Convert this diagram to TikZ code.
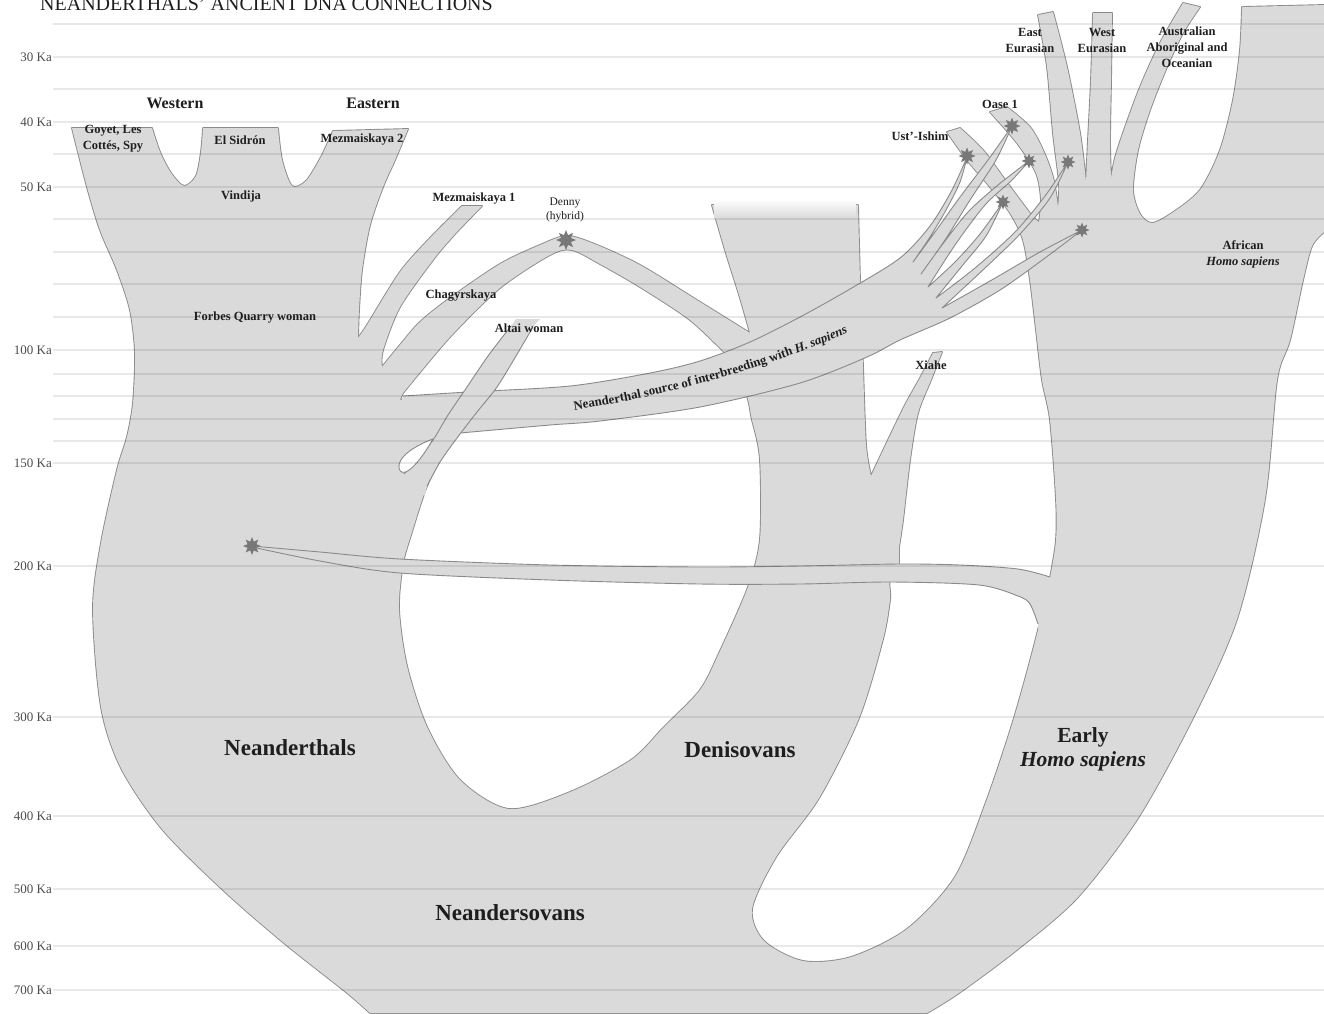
\documentclass[tikz,border=0pt]{standalone}
\usepackage{fontspec}
\setmainfont{Liberation Serif}
\usetikzlibrary{shapes.geometric,decorations.text}

\definecolor{lineagegray}{RGB}{218,218,218}
\definecolor{edgegray}{RGB}{138,138,138}
\definecolor{stargray}{RGB}{120,120,120}
\definecolor{inkgray}{RGB}{30,30,30}
\definecolor{axisgray}{RGB}{75,75,75}

\newcommand\bandfont{\fontsize{12.8}{12.8}\selectfont\bfseries}

% outline of the joined lineages (Neanderthals, Denisovans, H. sapiens)
\newcommand\bodyoutline{(72,128) -- (152,128)
  -- plot[smooth] coordinates {(152,128) (160,152) (171,173) (184,186) (196,176) (201,152) (203,128)}
  -- (278,128)
  -- plot[smooth] coordinates {(278,128) (282,160) (292,186) (306,181) (321,157) (333,131)}
  -- (408,129)
  -- plot[smooth] coordinates {(408,129) (395,160) (383,187) (370,225) (362,270) (359,310) (358,338)}
  -- (366,372) -- (392,398) -- (430,405) -- (550,405) -- (650,390) -- (735,368) -- (751,343) -- (750,333)
  -- plot[smooth] coordinates {(750,333) (740,298) (725,250) (712,205)}
  -- (858,205)
  -- plot[smooth] coordinates {(858,205) (860,280) (863,367) (866,445) (871,476)}
  -- plot[smooth] coordinates {(871,476) (888,440) (905,405) (920,378) (933,353)}
  -- (942,352)
  -- plot[smooth] coordinates {(942,352) (931,380) (918,413) (910,460) (903,520) (899,547)}
  -- (899,567) -- (960,568) -- (1010,572) -- (1050,578)
  -- plot[smooth] coordinates {(1050,578) (1056,540) (1056,499) (1050,420) (1042,380) (1036,330) (1030,280) (1023,240) (1010,213) (990,187) (967,160) (947,132)}
  -- (960,128)
  -- plot[smooth] coordinates {(960,128) (983,150) (1003,177) (1020,200) (1033,217) (1039,222)}
  -- plot[smooth] coordinates {(1039,222) (1041,200) (1036,173) (1017,143) (990,112)}
  -- (1007,107)
  -- plot[smooth] coordinates {(1007,107) (1030,127) (1043,150) (1053,177) (1058,207)}
  -- plot[smooth] coordinates {(1058,207) (1059,183) (1053,133) (1047,67) (1038,15)}
  -- (1053,12)
  -- plot[smooth] coordinates {(1053,12) (1067,67) (1080,133) (1086,182)}
  -- plot[smooth] coordinates {(1086,182) (1088,140) (1091,80) (1093,13)}
  -- (1112,13)
  -- plot[smooth] coordinates {(1112,13) (1111,80) (1110,140) (1111,178)}
  -- plot[smooth] coordinates {(1111,178) (1115,158) (1123,133) (1140,87) (1160,43) (1183,3)}
  -- (1200,7)
  -- plot[smooth] coordinates {(1200,7) (1183,33) (1167,67) (1150,110) (1138,150) (1133,190) (1140,214) (1152,223) (1172,213) (1200,190) (1220,150) (1233,100) (1240,50) (1242,7)}
  -- (1324,5) -- (1324,232)
  -- plot[smooth] coordinates {(1324,232) (1312,246) (1303,280) (1290,340) (1277,380) (1265,499) (1237,619) (1193,718) (1138,818) (1078,897) (1018,949) (959,993) (927,1013)}
  -- (370,1013)
  -- plot[smooth] coordinates {(370,1013) (346,992) (284,943) (223,890) (162,829) (121,768) (101,707) (93,609) (101,543) (117,470) (127,437) (133,403) (135,353) (130,310) (117,270) (100,230) (87,187) (72,128)}
  -- cycle}

% holes
\newcommand\holeone{(462,428) plot[smooth cycle] coordinates {(462,428) (550,418) (700,398) (742,390) (752,420) (760,460) (760,539) (748,587) (720,651) (700,690) (664,727) (631,760) (570,792) (509,809) (460,780) (427,727) (407,666) (399,609) (403,564) (411,535) (427,486) (445,452)}}
\newcommand\holetwo{(893,575) plot[smooth cycle] coordinates {(893,575) (940,575) (985,577) (1022,586) (1040,608) (1038,630) (1014,718) (986,802) (955,877) (907,929) (851,957) (803,961) (764,941) (752,909) (776,857) (819,798) (859,718) (883,639) (890,600)}}

% branches
\newcommand\mezone{(345,365) -- (358,338) -- plot[smooth] coordinates {(358,338) (367,325) (400,272) (430,238) (462,206)} -- (482,206) -- plot[smooth] coordinates {(482,206) (455,234) (433,260) (400,307) (383,350) (382,367)} -- (386,386) -- (360,395) -- cycle}
\newcommand\dennyarch{(368,398) -- (372,385) -- (382,367) -- plot[smooth] coordinates {(382,367) (400,345) (420,322) (450,298) (500,264) (540,245) (566,236) (592,243) (640,265) (700,302) (750,333)} -- (770,350) -- (765,372) -- (728,362) -- plot[smooth] coordinates {(728,356) (690,320) (640,287) (600,264) (572,250) (550,255) (500,288) (450,337) (403,393)} -- (395,410) -- cycle}

\newcommand\bandedge{(403,396) -- plot[smooth] coordinates {(403,396) (468,392) (570,386) (650,373) (700,361) (750,342) (800,317) (850,289) (900,258) (930,226) (952,190) (967,157)}
  -- plot[smooth] coordinates {(967,157) (960,182) (946,210) (930,237) (913,262)}
  -- plot[smooth] coordinates {(913,262) (935,232) (960,197) (988,160) (1012,126)}
  -- plot[smooth] coordinates {(1012,126) (996,160) (970,200) (945,240) (921,274)}
  -- plot[smooth] coordinates {(921,274) (942,245) (968,212) (998,185) (1029,161)}
  -- plot[smooth] coordinates {(1029,161) (1012,180) (985,205) (955,245) (928,287)}
  -- plot[smooth] coordinates {(928,287) (955,262) (980,234) (1003,202)}
  -- plot[smooth] coordinates {(1003,202) (986,236) (962,266) (936,298)}
  -- plot[smooth] coordinates {(936,298) (975,268) (1015,232) (1045,196) (1068,162)}
  -- plot[smooth] coordinates {(1068,162) (1050,198) (1020,234) (985,268) (942,308)}
  -- plot[smooth] coordinates {(942,308) (990,281) (1040,252) (1082,230)}
  -- plot[smooth] coordinates {(1082,230) (1045,258) (1000,290) (950,318) (900,340) (867,357) (800,383) (700,407) (600,421) (550,425) (460,433)}}

\newcommand\altaileft{(511,326) -- plot[smooth] coordinates {(511,326) (488,356) (467,387) (448,415) (433,440) (415,462) (404,474)}}
\newcommand\altairight{(427,486) -- plot[smooth] coordinates {(427,486) (440,462) (457,438) (477,412) (497,387) (516,356) (533,327)}}

\newcommand\oldtop{(252,546) -- plot[smooth] coordinates {(252,546) (320,552) (400,559) (550,565) (700,567) (800,566) (899,564) (960,565) (1018,569) (1050,577)}}
\newcommand\oldbottom{(1038,624) -- plot[smooth] coordinates {(1038,624) (1030,604) (1018,596) (979,585) (891,582) (800,584) (700,584) (550,580) (400,573) (320,561) (252,547)}}

\begin{document}
\begin{tikzpicture}[x=1pt,y=-1pt,line join=round,
    gridline/.style={black,opacity=0.09,line width=1.1},
    unionedge/.style={draw=edgegray,line width=1.8},
    edgeline/.style={draw=edgegray,line width=0.9},
    kalabel/.style={anchor=east,inner sep=0,text=axisgray,font=\fontsize{13}{13}\selectfont},
    smalllabel/.style={inner sep=0,align=center,text=inkgray,font=\fontsize{12.5}{16}\selectfont\bfseries},
    sidelabel/.style={inner sep=0,text=inkgray,font=\fontsize{16}{16}\selectfont\bfseries},
    biglabel/.style={inner sep=0,align=center,text=inkgray,font=\fontsize{23}{25}\selectfont\bfseries},
    hitstar/.style={star,star points=8,star point ratio=1.9,fill=stargray,inner sep=0,minimum size=#1},
    hitstar/.default=16]
\useasboundingbox (0,0) rectangle (1324,1013);

% joined shapes: edges first, fill on top
\path[unionedge] \bodyoutline \holeone \holetwo;
\path[unionedge] \mezone;
\path[unionedge] \dennyarch;
\path[fill=lineagegray,even odd rule] \bodyoutline \holeone \holetwo;
\path[fill=lineagegray] \mezone;
\path[fill=lineagegray] \dennyarch;
\shade[top color=white,bottom color=lineagegray] (714,199) rectangle (856,218);

% Neanderthal source of interbreeding
\fill[lineagegray] (395,425) -- \bandedge -- (430,437) -- cycle;
\draw[edgeline] \bandedge;

% Altai woman
\fill[lineagegray] (516,319) -- \altaileft -- (398,495) -- (425,495) -- \altairight -- (540,319) -- cycle;
\draw[edgeline] \altaileft;
\draw[edgeline] \altairight;
\draw[edgeline,fill=white] (433,439) .. controls (416,445) and (397,457) .. (399,468) .. controls (401,478) and (414,472) .. (433,439) -- cycle;

% early contact at 200 Ka
\fill[lineagegray] \oldtop -- (1068,588) -- (1062,630) -- (1038,628) -- \oldbottom -- cycle;
\draw[edgeline] \oldtop;
\draw[edgeline] \oldbottom;

% time lines
\foreach \yy in {24,57,89,122,154,187,219,252,284,317,350,374,396,419,441,463,566,717,816,889,946,990}
  \draw[gridline] (53,\yy) -- (1324,\yy);

\node[hitstar=20] (dennystar) at (566,240) {};
\node[hitstar=18] (oldstar) at (252,546) {};
\node[hitstar=17] (ustishimstar) at (967,156) {};
\node[hitstar=17] (oasestar) at (1012,126) {};
\node[hitstar=15] (oasetwostar) at (1029,161) {};
\node[hitstar=15] (ustishimtwostar) at (1003,202) {};
\node[hitstar=15] (eurasianstar) at (1068,162) {};
\node[hitstar=15] (africanstar) at (1082,230) {};

\node[anchor=base west,inner sep=0,text=inkgray,font=\fontsize{20}{20}\selectfont] (title) at (40,10) {NEANDERTHALS’ ANCIENT DNA CONNECTIONS};

\foreach \ka/\yy in {30/57,40/122,50/187,100/350,150/463,200/566,300/717,400/816,500/889,600/946,700/990}
  \node[kalabel] (ka\ka) at (52,\yy) {\ka\ Ka};

\node[sidelabel] (western) at (175,103) {Western};
\node[sidelabel] (eastern) at (373,103) {Eastern};
\node[smalllabel] (goyet) at (113,139) {Goyet, Les\\Cottés, Spy};
\node[smalllabel] (elsidron) at (240,140) {El Sidrón};
\node[smalllabel] (mezmaiskayatwo) at (362,140) {Mezmaiskaya 2};
\node[smalllabel] (vindija) at (241,196) {Vindija};
\node[smalllabel] (forbes) at (255,318) {Forbes Quarry woman};
\node[smalllabel] (mezmaiskayaone) at (474,199) {Mezmaiskaya 1};
\node[smalllabel,font=\fontsize{11.5}{14}\selectfont] (denny) at (565,210) {Denny\\(hybrid)};
\node[smalllabel] (chagyrskaya) at (461,296) {Chagyrskaya};
\node[smalllabel] (altai) at (529,328) {Altai woman};
\node[smalllabel] (xiahe) at (931,365) {Xiahe};
\node[smalllabel] (ustishim) at (920,136) {Ust’-Ishim};
\node[smalllabel] (oase) at (1000,104) {Oase 1};
\node[smalllabel] (easteurasian) at (1030,40) {East\\Eurasian};
\node[smalllabel] (westeurasian) at (1102,40) {West\\Eurasian};
\node[smalllabel] (australian) at (1187,47) {Australian\\Aboriginal and\\Oceanian};
\node[smalllabel] (african) at (1243,254) {African\\\textit{Homo sapiens}};

\path[decorate,decoration={text along path,text align=center,text color=inkgray,
    text={|\bandfont|Neanderthal source of interbreeding with |\bandfont\itshape|H. sapiens}}]
  (548,414) .. controls (650,400) and (765,372) .. (872,322);

\node[biglabel] (neanderthals) at (290,748) {Neanderthals};
\node[biglabel] (denisovans) at (740,750) {Denisovans};
\node[biglabel,font=\fontsize{21.5}{24}\selectfont\bfseries] (earlysapiens) at (1083,749) {Early\\\textit{Homo sapiens}};
\node[biglabel] (neandersovans) at (510,913) {Neandersovans};
\end{tikzpicture}
\end{document}
